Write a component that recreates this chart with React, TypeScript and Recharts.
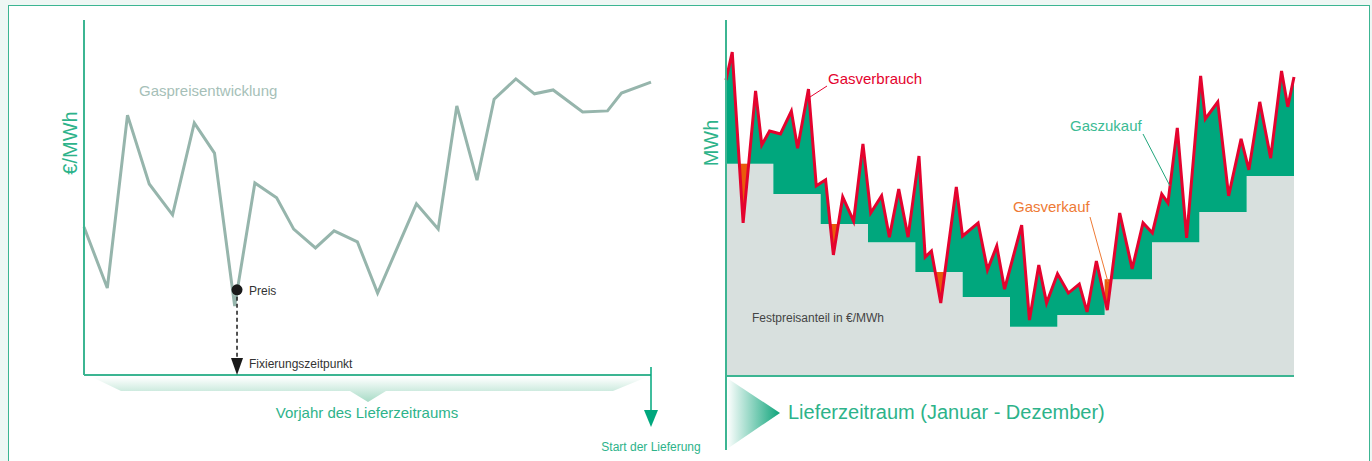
import React from 'react'
import {
  LineChart,
  Line,
  ComposedChart,
  Area,
  XAxis,
  YAxis,
  ReferenceLine,
  ReferenceDot,
} from 'recharts'

// left: gas price over the year before delivery (day of year, €/MWh index)
const priceDays = [0, 15, 28, 42, 57, 71, 84, 97, 110, 124, 135, 149, 161, 176, 189, 214, 228, 240, 253, 264, 278, 290, 302, 321, 337, 346, 365]
const priceValues = [41.7, 24.5, 73.2, 53.8, 45.1, 71.0, 62.5, 19.4, 54.1, 49.9, 41.1, 35.8, 40.6, 37.5, 23.1, 48.2, 41.1, 75.8, 54.9, 77.7, 83.4, 79.2, 80.3, 74.1, 74.4, 79.4, 82.5]
const fixDay = 98.5
const fixPrice = 24

// right: consumption during the delivery year (day of year, MWh index)
const usageDays = [0, 4, 11, 19, 23, 28, 35, 42, 46, 53, 58, 64, 69, 75, 82, 88, 93, 100, 105, 111, 117, 124, 128, 132, 138, 148, 152, 162, 168, 174, 179, 190, 195, 201, 206, 213, 220, 227, 232, 238, 245, 253, 261, 268, 274, 280, 284, 290, 296, 305, 308, 316, 323, 331, 336, 343, 350, 357, 361, 365]
const usageMWh = [83.1, 91.0, 43.0, 80.1, 64.9, 68.8, 68.0, 74.4, 64.0, 80.6, 53.4, 55.1, 34.0, 50.3, 43.5, 65.2, 45.8, 50.6, 39.0, 52.5, 39.0, 61.8, 33.4, 35.1, 20.5, 53.1, 39.3, 43.0, 29.8, 36.5, 24.4, 42.4, 15.7, 31.2, 20.5, 28.7, 23.3, 25.8, 18.0, 32.3, 18.5, 45.8, 30.1, 43.0, 40.2, 51.1, 48.6, 69.7, 38.8, 84.3, 72.2, 77.0, 50.6, 66.6, 57.9, 77.0, 61.2, 85.7, 75.6, 84.0]
// fixed price share per month, Jan..Dec
const fixedMWh = [59.6, 51.1, 42.7, 37.6, 29.2, 22.2, 13.8, 17.1, 27.2, 37.6, 46.1, 56.2]

const GREEN = '#00a77d'
const TEXT_GREEN = '#2db38a'
const AXIS = '#3cb592'
const GREY = '#d8e0de'
const ORANGE = '#e95b0c'
const RED = '#e4032e'
const FONT = '"Liberation Sans", Arial, sans-serif'

const priceData = priceDays.map((day, i) => ({ day, price: priceValues[i] }))

const MONTH = 365 / 12

const consAt = (d: number) => {
  for (let i = 1; i < usageDays.length; i++) {
    if (d <= usageDays[i]) {
      const t = (d - usageDays[i - 1]) / (usageDays[i] - usageDays[i - 1])
      return usageMWh[i - 1] + t * (usageMWh[i] - usageMWh[i - 1])
    }
  }
  return usageMWh[usageMWh.length - 1]
}

// merge consumption points, month borders and crossings so that the
// buy / sell areas between both curves can be drawn as range areas
const buildRows = () => {
  const breaks = [
    ...usageDays,
    ...Array.from({ length: 11 }, (_, i) => (i + 1) * MONTH),
  ].sort((a, b) => a - b)
  const rows: { day: number; cons: number; step: number }[] = []
  for (let i = 1; i < breaks.length; i++) {
    const a = breaks[i - 1]
    const b = breaks[i]
    if (b - a < 1e-9) continue
    const s = fixedMWh[Math.min(11, Math.floor((a + b) / 2 / MONTH))]
    const ca = consAt(a)
    const cb = consAt(b)
    rows.push({ day: a, cons: ca, step: s })
    if ((ca - s) * (cb - s) < 0) {
      const x = a + ((s - ca) / (cb - ca)) * (b - a)
      rows.push({ day: x, cons: s, step: s })
    }
    rows.push({ day: b, cons: cb, step: s })
  }
  return rows
}

const usageRows = buildRows()

const ArrowHead = (props: any) => {
  const { cx, cy } = props
  return <polygon points={`${cx - 6},${cy - 17} ${cx + 6},${cy - 17} ${cx},${cy}`} fill="#1a1a1a" />
}

const App = () => {
  return (
    <div style={{ position: 'absolute', left: 0, top: 0, width: 1372, height: 461, background: '#eef7f4', overflow: 'hidden', fontFamily: FONT }}>
      <div style={{ position: 'absolute', left: 8, top: 5, width: 1362, height: 480, border: `1px solid ${AXIS}`, background: '#fff', boxSizing: 'border-box' }} />

      <div style={{ position: 'absolute', left: 74, top: 10 }}>
        <LineChart width={587} height={375} data={priceData} margin={{ top: 10, right: 10, bottom: 10, left: 10 }}>
          <XAxis type="number" dataKey="day" domain={[0, 365]} hide />
          <YAxis type="number" domain={[0, 100]} hide />
          <Line type="linear" dataKey="price" stroke="#96b5ac" strokeWidth={3} dot={false} activeDot={false} isAnimationActive={false} />
          <ReferenceLine x={0} stroke={AXIS} strokeWidth={2} />
          <ReferenceLine y={0} stroke={AXIS} strokeWidth={2} />
          <ReferenceLine segment={[{ x: fixDay, y: fixPrice }, { x: fixDay, y: 4 }]} stroke="#1a1a1a" strokeWidth={1.5} strokeDasharray="4 3" />
          <ReferenceDot x={fixDay} y={0} shape={ArrowHead} />
          <ReferenceDot x={fixDay} y={fixPrice} r={5.5} fill="#1a1a1a" stroke="none" />
        </LineChart>
      </div>

      <div style={{ position: 'absolute', left: 716, top: 10 }}>
        <ComposedChart width={588} height={376} data={usageRows} margin={{ top: 10, right: 10, bottom: 10, left: 10 }}>
          <XAxis type="number" dataKey="day" domain={[0, 365]} hide />
          <YAxis type="number" domain={[0, 100]} hide />
          <Area type="linear" dataKey="step" fill={GREY} fillOpacity={1} stroke="none" dot={false} activeDot={false} isAnimationActive={false} />
          <Area type="linear" dataKey={(r: any) => [r.step, Math.max(r.cons, r.step)]} fill={GREEN} fillOpacity={1} stroke="none" dot={false} activeDot={false} isAnimationActive={false} />
          <Area type="linear" dataKey={(r: any) => [Math.min(r.cons, r.step), r.step]} fill={ORANGE} fillOpacity={1} stroke="none" dot={false} activeDot={false} isAnimationActive={false} />
          <Line type="linear" dataKey="cons" stroke={RED} strokeWidth={3} dot={false} activeDot={false} isAnimationActive={false} />
          <ReferenceLine x={0} stroke={AXIS} strokeWidth={2} />
          <ReferenceLine y={0} stroke={AXIS} strokeWidth={2} />
        </ComposedChart>
      </div>

      <svg width={1372} height={461} style={{ position: 'absolute', left: 0, top: 0, pointerEvents: 'none' }}>
        <defs>
          <linearGradient id="band" x1="0" y1="0" x2="0" y2="1">
            <stop offset="0" stopColor="#ffffff" />
            <stop offset="1" stopColor="#a7dbc6" />
          </linearGradient>
          <linearGradient id="wedge" x1="0" y1="0" x2="1" y2="0">
            <stop offset="0" stopColor="#ffffff" />
            <stop offset="1" stopColor="#0ea47a" />
          </linearGradient>
        </defs>

        {/* left chart decorations */}
        <polygon points="92,377 121,391 350,391 368,402 386,391 613,391 647,377" fill="url(#band)" />
        <line x1={651} y1={367} x2={651} y2={412} stroke={GREEN} strokeWidth={1.5} />
        <polygon points="644,410 658,410 651,427" fill={GREEN} />
        <text x={70} y={143} transform="rotate(-90 70 143)" textAnchor="middle" dominantBaseline="central" fontSize={20} fill={TEXT_GREEN}>€/MWh</text>
        <text x={139} y={96} fontSize={15} fill="#a6bfb8">Gaspreisentwicklung</text>
        <text x={249} y={295} fontSize={12} fill="#333">Preis</text>
        <text x={249} y={368} fontSize={12} fill="#333">Fixierungszeitpunkt</text>
        <text x={367} y={418} textAnchor="middle" fontSize={15} fill={TEXT_GREEN}>Vorjahr des Lieferzeitraums</text>
        <text x={651} y={451} textAnchor="middle" fontSize={12} fill={TEXT_GREEN}>Start der Lieferung</text>

        {/* right chart decorations */}
        <line x1={726} y1={376} x2={726} y2={450} stroke={AXIS} strokeWidth={2} />
        <polygon points="727,378 727,449 780,413" fill="url(#wedge)" />
        <text x={711} y={143} transform="rotate(-90 711 143)" textAnchor="middle" dominantBaseline="central" fontSize={20} fill={TEXT_GREEN}>MWh</text>
        <text x={788} y={419} fontSize={20} fill={TEXT_GREEN}>Lieferzeitraum (Januar - Dezember)</text>
        <text x={752} y={322} fontSize={12} fill="#444">Festpreisanteil in €/MWh</text>
        <text x={828} y={84} fontSize={15} fill={RED}>Gasverbrauch</text>
        <line x1={827} y1={86} x2={810} y2={97} stroke={RED} strokeWidth={1} />
        <text x={1070} y={131} fontSize={15} fill="#3bbb93">Gaszukauf</text>
        <line x1={1143} y1={134} x2={1170} y2={186} stroke="#20a67c" strokeWidth={1} />
        <text x={1013} y={212} fontSize={15} fill="#ee7a35">Gasverkauf</text>
        <line x1={1090} y1={217} x2={1108} y2={282} stroke="#ee7a35" strokeWidth={1} />
      </svg>
    </div>
  )
}

export default App
